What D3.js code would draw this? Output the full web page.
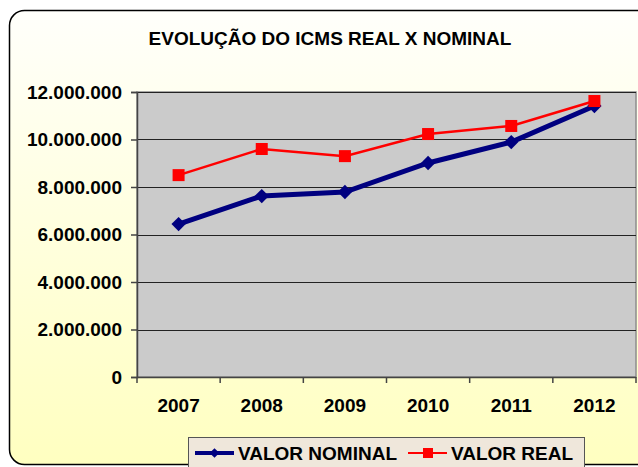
<!DOCTYPE html>
<html>
<head>
<meta charset="utf-8">
<script src="https://cdn.jsdelivr.net/npm/d3@7"></script>
<style>
  body { margin: 0; background: #fff; }
  text { font-family: "Liberation Sans", Arial, sans-serif; font-weight: bold; fill: #000; }
</style>
</head>
<body>
<div id="chart"></div>
<script>
var years = ["2007", "2008", "2009", "2010", "2011", "2012"];
var nominal = [6440000, 7620000, 7790000, 9010000, 9890000, 11410000];
var real = [8500000, 9600000, 9300000, 10230000, 10570000, 11620000];
var yticks = [0, 2000000, 4000000, 6000000, 8000000, 10000000, 12000000];

var svgwidth = 638, svgheight = 467;
var margin = {top: 92, left: 137, right: 2, bottom: 90};
var width = svgwidth - margin.left - margin.right;
var height = svgheight - margin.top - margin.bottom;

var svg = d3.select("#chart").append("svg").attr("width", svgwidth).attr("height", svgheight);

var defs = svg.append("defs");
var grad = defs.append("linearGradient").attr("id", "bg").attr("x1", 0).attr("y1", 0).attr("x2", 0).attr("y2", 1);
grad.append("stop").attr("offset", "0%").attr("stop-color", "#fffffb");
grad.append("stop").attr("offset", "100%").attr("stop-color", "#ffffc0");

// card
svg.append("rect").attr("x", 9.5).attr("y", 10.5).attr("width", 660).attr("height", 454)
    .attr("rx", 15).attr("fill", "url(#bg)").attr("stroke", "#000").attr("stroke-width", 1.5);

svg.append("text").attr("x", 330).attr("y", 45).attr("text-anchor", "middle")
    .style("font-size", "19px").text("EVOLUÇÃO DO ICMS REAL X NOMINAL");

var g = svg.append("g").attr("transform", `translate(${margin.left}, ${margin.top})`);

var x = d3.scaleBand().domain(years).range([0, width]);
var y = d3.scaleLinear().domain([0, 12000000]).range([height, 0]);

g.append("rect").attr("width", width).attr("height", height).attr("fill", "#cbcbcb")
    .attr("stroke", "#8c8c8c").attr("stroke-width", 1.5);

g.selectAll(".grid").data(yticks.slice(1)).enter().append("line")
    .attr("x1", 0).attr("x2", width).attr("y1", d => Math.round(y(d)) + 0.5).attr("y2", d => Math.round(y(d)) + 0.5)
    .attr("stroke", "#222").attr("stroke-width", 1);

var fmt = d => d3.format(",")(d).replace(/,/g, ".");
var yaxis = g.append("g").call(d3.axisLeft(y).tickValues(yticks).tickFormat(fmt).tickSize(6).tickPadding(9));
var xaxis = g.append("g").attr("transform", `translate(0, ${height})`)
    .call(d3.axisBottom(x).tickSize(0).tickPadding(22));
[yaxis, xaxis].forEach(function(a) {
    a.selectAll("text").style("font-size", "19px").style("font-family", "Liberation Sans, Arial, sans-serif").attr("fill", "#000");
    a.select(".domain").attr("stroke", "#444").attr("stroke-width", 1.5);
    a.selectAll("line").attr("stroke", "#444").attr("stroke-width", 1.5);
});
xaxis.select(".domain").attr("d", `M0,0.5H${width}`);
// category separators on the x axis
g.selectAll(".xt").data(d3.range(years.length + 1)).enter().append("line")
    .attr("x1", i => i * x.bandwidth()).attr("x2", i => i * x.bandwidth())
    .attr("y1", height).attr("y2", height + 6).attr("stroke", "#444").attr("stroke-width", 1.5);

var cx = d => x(d) + x.bandwidth() / 2;
var line = d3.line().x((d, i) => cx(years[i])).y(d => y(d));

g.append("path").datum(nominal).attr("d", line).attr("fill", "none")
    .attr("stroke", "#000080").attr("stroke-width", 5);
g.selectAll(".dia").data(nominal).enter().append("path")
    .attr("d", d3.symbol().type(d3.symbolDiamond2).size(130))
    .attr("transform", (d, i) => `translate(${cx(years[i])}, ${y(d)})`).attr("fill", "#000080");

g.append("path").datum(real).attr("d", line).attr("fill", "none")
    .attr("stroke", "#ff0000").attr("stroke-width", 2.5);
g.selectAll(".sq").data(real).enter().append("rect")
    .attr("x", (d, i) => cx(years[i]) - 6).attr("y", d => y(d) - 6).attr("width", 12).attr("height", 12)
    .attr("fill", "#ff0000");

// legend
var lg = svg.append("g");
lg.append("rect").attr("x", 188.5).attr("y", 437.5).attr("width", 396).attr("height", 40)
    .attr("fill", "#efe7db").attr("stroke", "#555").attr("stroke-width", 1);
lg.append("line").attr("x1", 195).attr("x2", 234).attr("y1", 453).attr("y2", 453).attr("stroke", "#000080").attr("stroke-width", 4);
lg.append("path").attr("d", d3.symbol().type(d3.symbolDiamond2).size(60)).attr("transform", "translate(214.5,453)").attr("fill", "#000080");
lg.append("text").attr("x", 238).attr("y", 460).style("font-size", "19px").text("VALOR NOMINAL");
lg.append("line").attr("x1", 408).attr("x2", 447).attr("y1", 453).attr("y2", 453).attr("stroke", "#ff0000").attr("stroke-width", 2);
lg.append("rect").attr("x", 423).attr("y", 448).attr("width", 10).attr("height", 10).attr("fill", "#ff0000");
lg.append("text").attr("x", 451).attr("y", 460).style("font-size", "19px").text("VALOR REAL");
</script>
</body>
</html>
